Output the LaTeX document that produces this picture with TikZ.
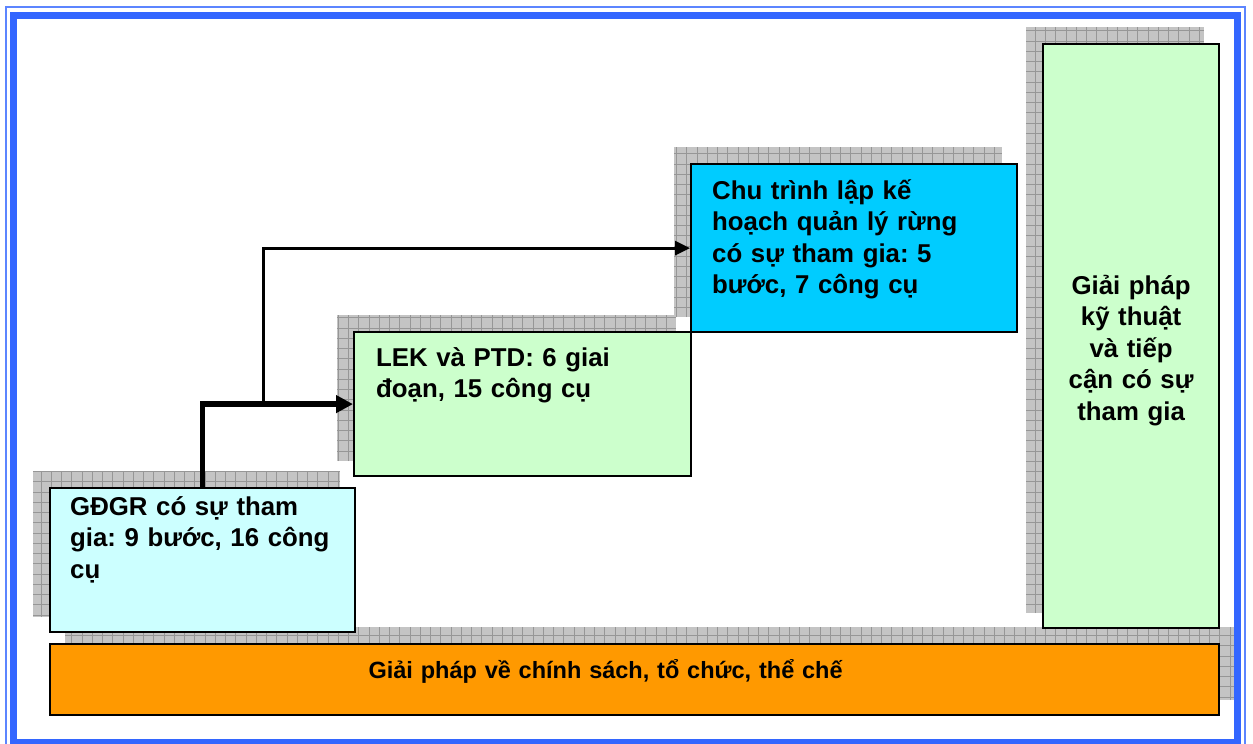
\documentclass[tikz,border=0pt]{standalone}
\usepackage{fontspec}
\setmainfont{Liberation Sans}
\usepackage{xcolor}
\usepackage{tikz}
\usetikzlibrary{arrows.meta}
\usetikzlibrary{positioning}
\usetikzlibrary{backgrounds}
\frenchspacing
\definecolor{framecol}{RGB}{51,102,255}
\definecolor{paleblue}{RGB}{204,255,255}
\definecolor{palegreen}{RGB}{204,255,204}
\definecolor{skyblue}{RGB}{0,204,255}
\definecolor{policyorange}{RGB}{255,153,0}
\definecolor{shadowgray}{RGB}{196,196,196}
\definecolor{gridgray}{RGB}{150,150,150}
\tikzstyle{block} = [rectangle, draw=black, line width=2.2pt, anchor=north west,
    inner sep=0pt]
\tikzstyle{boxtext} = [anchor=base west, inner sep=0pt, text width=330pt,
    align=left, font=\fontsize{25.8}{31.5}\selectfont\bfseries]
\tikzstyle{shadowbox} = [fill=shadowgray]
\tikzstyle{shadowgrid} = [draw=gridgray, line width=0.7pt]
\tikzstyle{line} = [draw, -{Triangle[length=17pt,width=17pt]}, line width=5.5pt]
\tikzstyle{thinline} = [draw, -{Triangle[length=15pt,width=14pt]}, line width=3pt]

\begin{document}
\begin{tikzpicture}[x=1pt, y=-1pt]
  \useasboundingbox (0,0) rectangle (1253,744);

  % Place nodes
  \node [block, fill=paleblue, minimum width=305, minimum height=144] (gdgr) at (49,487) {};
  \node [block, fill=palegreen, minimum width=337, minimum height=144] (lek) at (353,331) {};
  \node [block, fill=skyblue, minimum width=326, minimum height=168] (chu) at (690,163) {};
  \node [block, fill=palegreen, minimum width=176, minimum height=584] (pract) at (1042,43) {};
  \node [block, fill=policyorange, minimum width=1169, minimum height=71] (policy) at (49,643) {};

  % Box texts
  \node [boxtext] (gdgr-text) at ([shift={(21,28)}]gdgr.north west)
    {GĐGR có sự tham\\gia: 9 bước, 16 công\\cụ};
  \node [boxtext] (lek-text) at ([shift={(23,35)}]lek.north west)
    {LEK và PTD: 6 giai\\đoạn, 15 công cụ};
  \node [boxtext] (chu-text) at ([shift={(22,36)}]chu.north west)
    {Chu trình lập kế\\hoạch quản lý rừng\\có sự tham gia: 5\\bước, 7 công cụ};
  \node [boxtext, anchor=base, text width=176pt, align=center] (pract-text)
    at ([shift={(0,251)}]pract.north)
    {Giải pháp\\kỹ thuật\\và tiếp\\cận có sự\\tham gia};
  \node [boxtext, anchor=base, text width=600pt, align=center,
    font=\fontsize{23.5}{28}\selectfont\bfseries] (policy-text)
    at ([shift={(-29,-1.5)}]policy.center)
    {Giải pháp về chính sách, tổ chức, thể chế};

  % Draw edges
  \coordinate (split) at (263,403);
  \path [line] (gdgr.north) |- (lek.west);
  \path [thinline] (split) |- (chu.west);

  % Frame
  \draw [framecol!80!white, line width=1.5pt] (6,7) rectangle (1245,752);
  \draw [framecol, line width=7pt] (13.5,15) rectangle (1237.5,742.5);

  % Shadows behind the boxes
  \begin{scope}[on background layer]
    \fill [white] (0,0) rectangle (1253,744);
    \foreach \b/\dx in {gdgr/-16, lek/-16, chu/-16, pract/-16, policy/16} {
      \fill [shadowbox] ([shift={(\dx,-16)}]\b.north west) rectangle ([shift={(\dx,-16)}]\b.south east);
      \draw [shadowgrid, step=10.25pt] ([shift={(\dx,-16)}]\b.north west) grid ([shift={(\dx,-16)}]\b.south east);
    }
  \end{scope}
\end{tikzpicture}
\end{document}
